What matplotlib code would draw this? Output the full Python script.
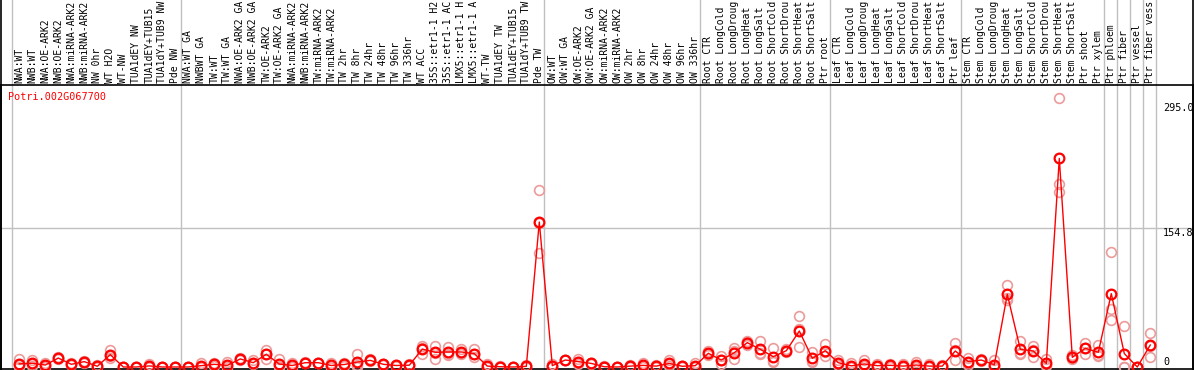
import matplotlib
matplotlib.use("Agg")
import matplotlib.pyplot as plt
import matplotlib.transforms as mtransforms

gene_name = "Potri.002G067700"

# column labels as they appear (the chart cuts them at 14 characters)
labels = [
    "NWA:WT", "NWB:WT", "NWA:OE-ARK2", "NWB:OE-ARK2", "NWA:miRNA-ARK2", "NWB:miRNA-ARK2",
    "NW 0hr", "WT H2O", "WT-NW", "TUA1dEY NW", "TUA1dEY+TUB15", "TUA1dY+TUB9 NW", "Pde NW",
    "NWA:WT GA", "NWBWT GA", "TW:WT", "TW:WT GA", "NWA:OE-ARK2 GA", "NWB:OE-ARK2 GA",
    "TW:OE-ARK2", "TW:OE-ARK2 GA", "NWA:miRNA-ARK2", "NWB:miRNA-ARK2", "TW:miRNA-ARK2",
    "TW:miRNA-ARK2", "TW 2hr", "TW 8hr", "TW 24hr", "TW 48hr", "TW 96hr", "TW 336hr",
    "WT ACC", "35S::etr1-1 H2", "35S::etr1-1 AC", "LMX5::etr1-1 H", "LMX5::etr1-1 A",
    "WT-TW", "TUA1dEY TW", "TUA1dEY+TUB15", "TUA1dY+TUB9 TW", "Pde TW",
    "OW:WT", "OW:WT GA", "OW:OE-ARK2", "OW:OE-ARK2 GA", "OW:miRNA-ARK2", "OW:miRNA-ARK2",
    "OW 2hr", "OW 8hr", "OW 24hr", "OW 48hr", "OW 96hr", "OW 336hr",
    "Root CTR", "Root LongCold", "Root LongDroug", "Root LongHeat", "Root LongSalt",
    "Root ShortCold", "Root ShortDrou", "Root ShortHeat", "Root ShortSalt", "Ptr root",
    "Leaf CTR", "Leaf LongCold", "Leaf LongDroug", "Leaf LongHeat", "Leaf LongSalt",
    "Leaf ShortCold", "Leaf ShortDrou", "Leaf ShortHeat", "Leaf ShortSalt", "Ptr leaf",
    "Stem CTR", "Stem LongCold", "Stem LongDroug", "Stem LongHeat", "Stem LongSalt",
    "Stem ShortCold", "Stem ShortDrou", "Stem ShortHeat", "Stem ShortSalt", "Ptr shoot",
    "Ptr xylem", "Ptr phloem", "Ptr fiber", "Ptr vessel", "Ptr fiber vess",
]

group_sizes = [13, 28, 12, 10, 10, 11, 1, 1, 1, 1]

means = [
    3.5, 4.2, 2.2, 10, 3, 6, 0.8, 13.8, 0, 0, 1.2, 0, 0,
    0, 1.5, 3, 1.8, 9, 4.8, 14.2, 3.3, 1.7, 4.8, 4.8, 1.7, 2.8, 5.5, 7.4, 3, 1.7, 2,
    20, 16.4, 16.8, 16.8, 14.9, 1, 0.3, 0, 0.7, 162,
    1.5, 7.8, 6, 4, 0.3, 0, 1, 1.8, 1, 4, 0.8, 1.5,
    15.3, 7.8, 16, 27.2, 19.8, 11.5, 18.2, 40.2, 9.7, 18.2,
    4.8, 1.3, 3.4, 1.5, 1.9, 1, 2.2, 1, 1, 17.9,
    6, 7.8, 2.5, 81.2, 19.8, 17.9, 4, 233, 10.8, 20.9, 16.4,
    82, 15, 0, 24.6,
]

rep1 = [
    8.5, 8, 5, 11, 4, 7, 2.5, 19, 0.5, 0.5, 3.5, 0, 0,
    0, 4.5, 4.5, 5.5, 10, 7.5, 19, 9, 4, 5.5, 5, 5, 4, 14, 8.5, 3.5, 2, 3,
    24, 24, 22, 20.5, 20, 3, 1, 0, 2, 198,
    3, 8, 9, 5, 1, 0, 2, 4.5, 2.5, 7.5, 1.5, 4.5,
    18, 12.5, 21.5, 29, 28.5, 21.5, 20, 57, 16.5, 25.5,
    8, 4, 7.5, 3, 3.5, 3.5, 5.5, 3, 2, 27,
    10.5, 8.5, 7.5, 92, 29, 23.5, 9, 300, 13, 27, 24.5,
    128, 46, 0, 38.5,
]
rep2 = [
    2, 3.5, 1, 10, 3, 6, 0, 12, 0, 0, 0, 0, 0,
    0, 0, 3, 0, 9, 4, 15, 1, 1, 5, 5, 0, 3, 2, 7.5, 3, 1.5, 2,
    21, 16, 15, 16, 14, 0, 0, 0, 0, 161,
    1, 8, 6, 4, 0, 0, 1, 1, 0.5, 3, 1, 0,
    15, 8, 17.5, 28, 16, 7, 18, 42, 7, 17,
    4, 0, 2, 1, 1.5, 0, 1, 0, 1, 19,
    5, 7.8, 0, 77, 16, 18.5, 2, 205, 10.5, 21, 13,
    64.5, 0, 0, 23.5,
]
rep3 = [
    0, 1, 0.5, 9, 2, 5, 0, 10, 0, 0, 0, 0, 0,
    0, 0, 1.5, 0, 8, 3, 8.5, 0, 0, 4, 4.5, 0, 1.5, 0, 6.5, 2.5, 1.5, 1,
    15, 9, 13, 14, 11, 0, 0, 0, 0, 127,
    0.5, 7.5, 3, 3, 0, 0, 0, 0, 0, 1.5, 0, 0,
    13, 3, 9, 24.5, 15, 6, 16.5, 22, 5.5, 12.3,
    2.5, 0, 1, 0.5, 0.5, 0, 0, 0, 0, 7.5,
    2.5, 7, 0, 75, 14.5, 11.5, 1, 196, 9, 14.5, 12,
    52.5, 0, 0, 11.5,
]

axis_ticks = [0, 154.8, 295.0]
axis_tick_labels = ["0", "154.8", "295.0"]

W, H = 1194, 370
fig = plt.figure(figsize=(W / 100, H / 100), dpi=100)
ax_left_px, ax_right_px, ax_top_px, ax_bot_px = 1, 1193, 85, 369
ax = fig.add_axes([ax_left_px / W, (H - ax_bot_px) / H,
                   (ax_right_px - ax_left_px) / W, (ax_bot_px - ax_top_px) / H])

x0_px, dx_px = 19.3, 13.0
ax.set_xlim((ax_left_px - x0_px) / dx_px, (ax_right_px - x0_px) / dx_px)
zero_px, px_per_unit = 367.0, 0.895
ax.set_ylim((zero_px - ax_bot_px) / px_per_unit, (zero_px - ax_top_px) / px_per_unit)
ax.set_xticks([])
ax.set_yticks([])
for s in ax.spines.values():
    s.set_color("black")
    s.set_linewidth(1.2)

mono = "DejaVu Sans Mono"
fs = 7.0
top_extra = 1 + ax_top_px / (ax_bot_px - ax_top_px)

# group separator lines
bounds = [-0.6]
acc = 0
for g in group_sizes:
    acc += g
    bounds.append(acc - 1 + 0.4)
for b in bounds:
    ax.axvline(b, ymin=0, ymax=top_extra, color="#c0c0c0", lw=1, clip_on=False, zorder=1)

# horizontal grid line at middle tick
ax.axhline(axis_ticks[1], color="#c0c0c0", lw=1, zorder=1)

# outer border lines extended through label area
ax.plot([0, 0], [0, top_extra], transform=ax.transAxes, color="black", lw=1.2, clip_on=False)
ax.plot([1, 1], [0, top_extra], transform=ax.transAxes, color="black", lw=1.2, clip_on=False)

xs = list(range(len(labels)))
for reps in (rep1, rep2, rep3):
    ax.plot(xs, reps, linestyle="none", marker="o", markersize=7, markerfacecolor="none",
            markeredgecolor="#ec9a9a", markeredgewidth=1.2, zorder=3)
ax.plot(xs, means, color="#ff0000", lw=1, zorder=4)
ax.plot(xs, means, linestyle="none", marker="o", markersize=7, markerfacecolor="none",
        markeredgecolor="#ff0000", markeredgewidth=1.6, zorder=5)

# column labels
trans = mtransforms.blended_transform_factory(ax.transData, ax.transAxes)
lab_y = 1 + 2 / (ax_bot_px - ax_top_px)
for i, lab in enumerate(labels):
    ax.text(i, lab_y, lab, rotation=90, ha="center", va="bottom", family=mono,
            fontsize=fs, color="black", transform=trans, clip_on=False)

# gene name
ax.text((8 - ax_left_px) / (ax_right_px - ax_left_px), 1 - 12 / (ax_bot_px - ax_top_px),
        gene_name, ha="left", va="center", family=mono, fontsize=7.3, color="#ff0000",
        transform=ax.transAxes)

# right axis labels
lab_x = (1163 - x0_px) / dx_px
for v, t in zip(axis_ticks, axis_tick_labels):
    va = "bottom" if v == 0 else "top"
    ax.text(lab_x, v, t, ha="left", va=va, family=mono, fontsize=7.3, color="black")

fig.savefig("out.png", dpi=100)
